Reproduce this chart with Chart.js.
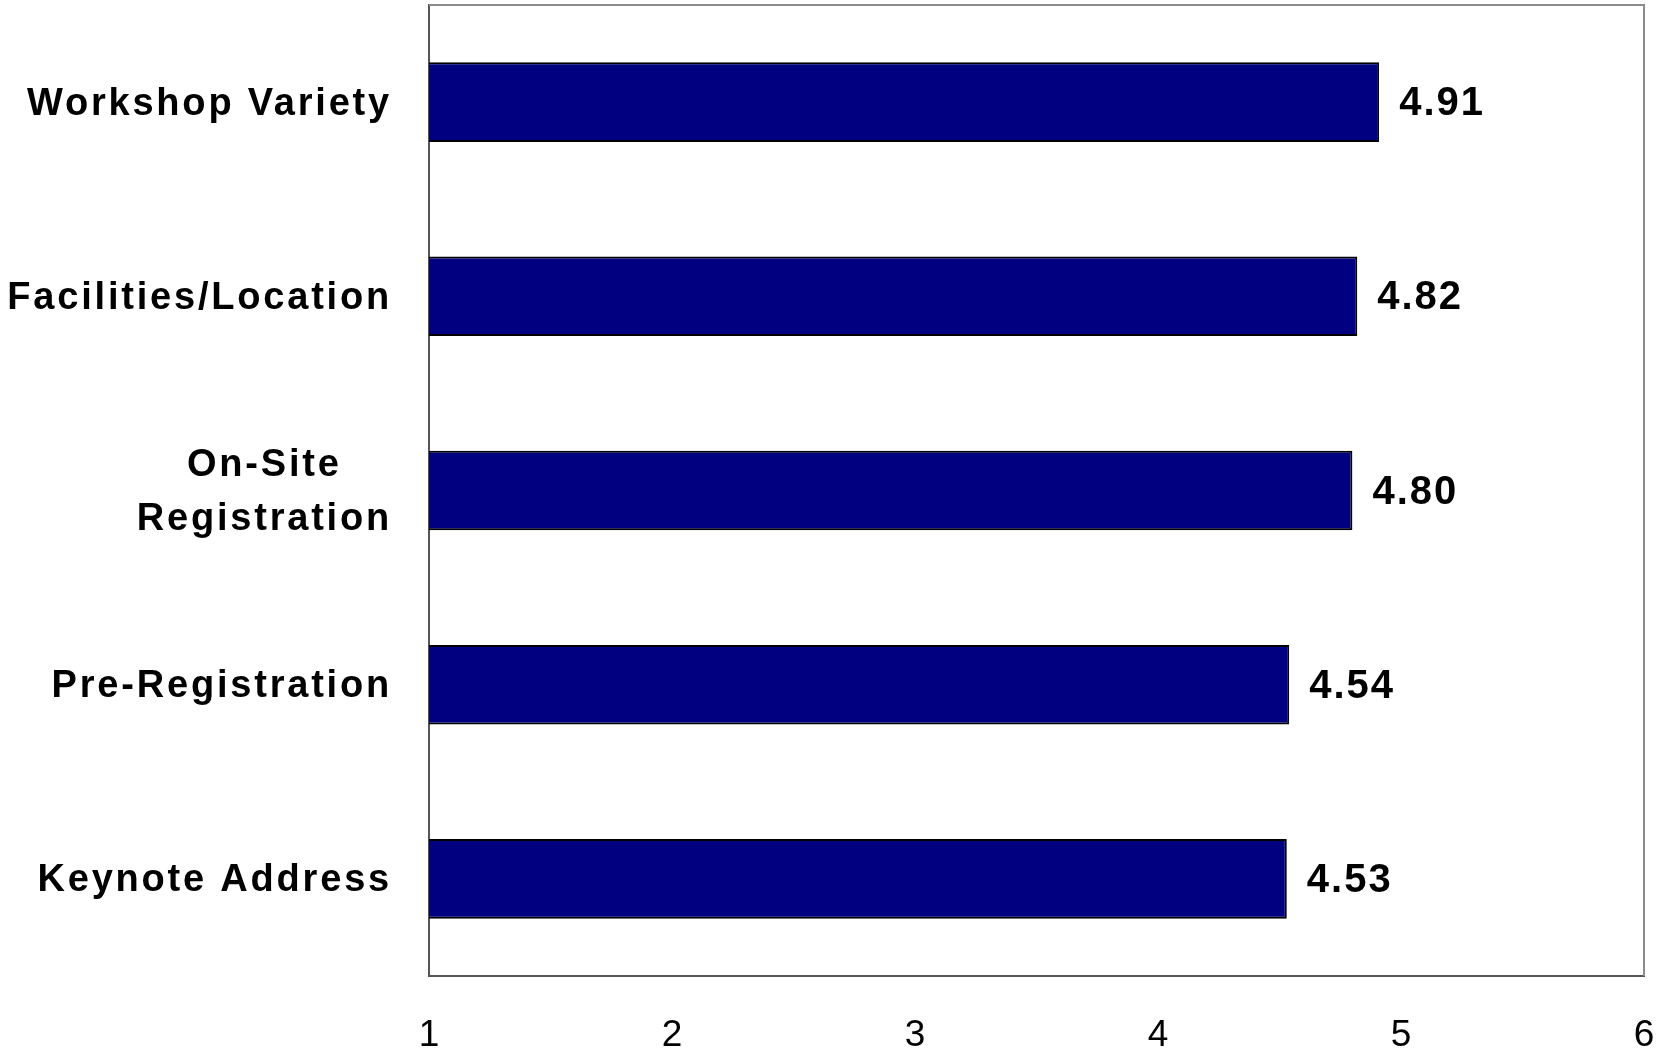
<!DOCTYPE html>
<html>
<head>
<meta charset="utf-8">
<script src="https://cdn.jsdelivr.net/npm/chart.js@4"></script>
<style>
  html, body { margin: 0; padding: 0; background: #fff; }
  #wrap { width: 1660px; height: 1051px; }
</style>
</head>
<body>
<div id="wrap"><canvas id="chart"></canvas></div>
<script>
const categories = [
  ["Workshop Variety"],
  ["Facilities/Location"],
  ["On-Site", "Registration"],
  ["Pre-Registration"],
  ["Keynote Address"]
];
const scores = [4.91, 4.82, 4.80, 4.54, 4.53];
const axisMin = 1;
const axisMax = 6;

const FONT = "Arial, 'Liberation Sans', sans-serif";

// bar values + category labels drawn by hand (letter spaced, centred lines)
const labelPlugin = {
  id: 'labelPlugin',
  afterDraw(chart) {
    const ctx = chart.ctx;
    const area = chart.chartArea;
    const yScale = chart.scales.y;
    const meta = chart.getDatasetMeta(0);

    ctx.save();
    // top + right frame
    ctx.strokeStyle = "#8c8c8c";
    ctx.lineWidth = 2;
    ctx.beginPath();
    ctx.moveTo(area.left, area.top);
    ctx.lineTo(area.right, area.top);
    ctx.lineTo(area.right, area.bottom);
    ctx.stroke();

    ctx.fillStyle = "#000";
    ctx.letterSpacing = "2px";
    ctx.font = "bold 40px " + FONT;
    ctx.textAlign = "left";
    ctx.textBaseline = "middle";
    meta.data.forEach((bar, i) => {
      ctx.fillText(scores[i].toFixed(2), bar.x + 20, bar.y + 2);
    });

    ctx.letterSpacing = "2.8px";
    ctx.font = "bold 38px " + FONT;
    ctx.textAlign = "center";
    const rightEdge = 392;
    chart.data.labels.forEach((lines, i) => {
      const cy = yScale.getPixelForTick(i) + 2;
      const maxW = Math.max(...lines.map(l => ctx.measureText(l).width));
      const cx = rightEdge - maxW / 2;
      const lh = 54;
      lines.forEach((l, j) => {
        ctx.fillText(l, cx, cy + (j - (lines.length - 1) / 2) * lh);
      });
    });
    ctx.restore();
  }
};

new Chart(document.getElementById("chart"), {
  type: 'bar',
  data: {
    labels: categories,
    datasets: [{
      data: scores,
      backgroundColor: "#000080",
      borderColor: "#000",
      borderWidth: 2,
      borderSkipped: false,
      barPercentage: 0.41,
      categoryPercentage: 1
    }]
  },
  options: {
    indexAxis: 'y',
    responsive: true,
    maintainAspectRatio: false,
    animation: false,
    layout: { padding: { top: 5, right: 16, left: 0, bottom: 0 } },
    plugins: {
      legend: { display: false },
      tooltip: { enabled: false }
    },
    scales: {
      x: {
        min: axisMin,
        max: axisMax,
        ticks: {
          stepSize: 1,
          color: "#000",
          padding: 30,
          font: { family: FONT, size: 37 }
        },
        grid: { display: false },
        border: { color: "#555", width: 2 },
        afterFit: (s) => { s.height = 75; s.paddingLeft = 0; s.paddingRight = 0; }
      },
      y: {
        ticks: { display: false },
        grid: { display: false },
        border: { color: "#555", width: 2 },
        afterFit: (s) => { s.width = 429; }
      }
    }
  },
  plugins: [labelPlugin]
});
</script>
</body>
</html>
